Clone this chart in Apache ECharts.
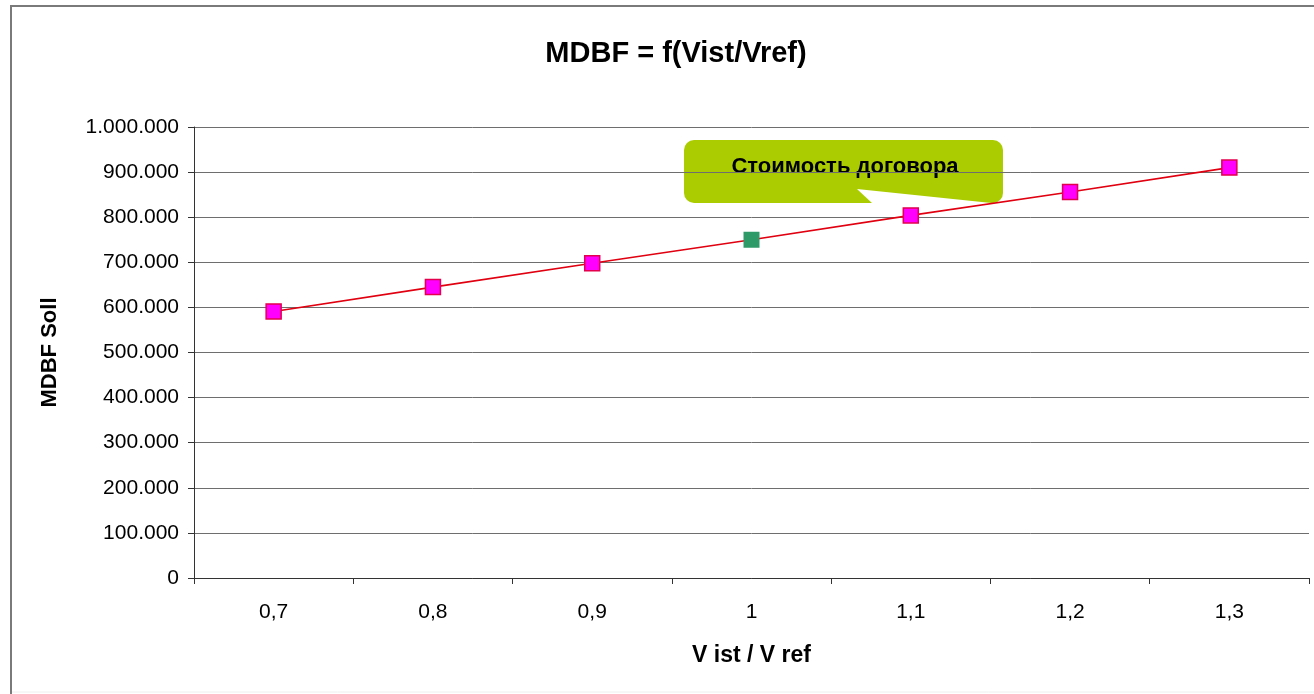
<!DOCTYPE html>
<html>
<head>
<meta charset="utf-8">
<script src="https://cdn.jsdelivr.net/npm/echarts@6/dist/echarts.min.js"></script>
<style>
  html, body { margin: 0; padding: 0; background: #fff; }
  #chart { width: 1314px; height: 694px; }
</style>
</head>
<body>
<div id="chart"></div>
<script>
// Ratio of actual to reference volume
const ratios = ['0,7', '0,8', '0,9', '1', '1,1', '1,2', '1,3'];
// Target MDBF at each ratio
const mdbfValues = [591000, 645000, 698000, 750000, 804000, 856000, 910000];
// Index of the contract-value point
const contractIndex = 3;

const FONT = '"Liberation Sans", Arial, sans-serif';

const seriesData = mdbfValues.map((v, i) => i === contractIndex
  ? { value: v, symbolSize: 16, itemStyle: { color: '#2e9a68', borderColor: '#2e9a68', borderWidth: 0 } }
  : v);

const chart = echarts.init(document.getElementById('chart'), null, { renderer: 'canvas' });

chart.setOption({
  backgroundColor: '#ffffff',
  animation: false,
  textStyle: { fontFamily: FONT },
  title: {
    text: 'MDBF = f(Vist/Vref)',
    left: 671,
    textAlign: 'center',
    top: 34,
    textStyle: { fontFamily: FONT, fontSize: 29, fontWeight: 'bold', color: '#000' }
  },
  grid: { left: 194, right: 5, top: 127, bottom: 116, containLabel: false },
  xAxis: {
    type: 'category',
    data: ratios,
    boundaryGap: true,
    name: 'V ist / V ref',
    nameLocation: 'middle',
    nameGap: 66,
    nameTextStyle: { fontFamily: FONT, fontSize: 23, fontWeight: 'bold', color: '#000' },
    axisLine: { lineStyle: { color: '#333', width: 1 } },
    axisTick: { show: true, alignWithLabel: false, length: 6, lineStyle: { color: '#333' } },
    axisLabel: { fontFamily: FONT, fontSize: 21, color: '#000', margin: 24 },
    splitLine: { show: false }
  },
  yAxis: {
    type: 'value',
    min: 0,
    max: 1000000,
    interval: 100000,
    name: 'MDBF Soll',
    nameLocation: 'middle',
    nameGap: 133,
    nameRotate: 90,
    nameTextStyle: { fontFamily: FONT, fontSize: 22, fontWeight: 'bold', color: '#000' },
    axisLine: { show: true, lineStyle: { color: '#333', width: 1 } },
    axisTick: { show: true, length: 6, inside: false, lineStyle: { color: '#333' } },
    axisLabel: {
      fontFamily: FONT, fontSize: 21, color: '#000', margin: 15,
      formatter: v => v === 0 ? '0' : String(v).replace(/\B(?=(\d{3})+(?!\d))/g, '.')
    },
    splitLine: { show: true, lineStyle: { color: '#6e6e6e', width: 1 } }
  },
  series: [{
    type: 'line',
    data: seriesData,
    symbol: 'rect',
    symbolSize: 15,
    lineStyle: { color: '#e00010', width: 1.6 },
    itemStyle: { color: '#ff00ff', borderColor: '#e4004c', borderWidth: 1.5 },
    z: 3
  }],
  graphic: [
    // Chart frame
    { type: 'polyline', shape: { points: [[11, 694], [11, 6], [1314, 6]] },
      style: { stroke: '#7a7a7a', lineWidth: 2, fill: null }, z: 10 },
    { type: 'line', shape: { x1: 12, y1: 692, x2: 1314, y2: 692 },
      style: { stroke: '#eeeeee', lineWidth: 1 }, z: 10 },
    // Callout
    { type: 'group', z: 20, children: [
      { type: 'rect', shape: { x: 684, y: 140, width: 319, height: 63, r: 10 },
        style: { fill: '#abcc00' } },
      { type: 'polygon', shape: { points: [[857, 189], [873, 204], [1001, 204]] },
        style: { fill: '#ffffff' } },
      { type: 'text', x: 845, y: 167,
        style: { text: 'Стоимость договора', fill: '#000', font: 'bold 22px "Liberation Sans", Arial, sans-serif',
          align: 'center', verticalAlign: 'middle' } }
    ] }
  ]
});
</script>
</body>
</html>
